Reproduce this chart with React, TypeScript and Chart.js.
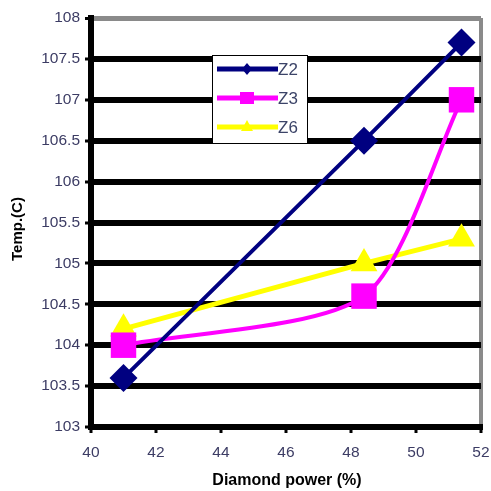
import React, { useEffect, useRef } from "react";
import { Chart, registerables } from "chart.js";
Chart.register(...registerables);

const powers = [41, 48.4, 51.4];
const z2 = [103.6, 106.5, 107.7];
const z3 = [104, 104.6, 107];
const z6 = [104.2, 105, 105.3];
const seriesNames = ["Z2", "Z3", "Z6"];
const xTitle = "Diamond power (%)";
const yTitle = "Temp.(C)";
const xMin = 40, xMax = 52, xStep = 2;
const yMin = 103, yMax = 108, yStep = 0.5;

const FONT = "'Liberation Sans', Arial, sans-serif";

export default function App() {
  const ref = useRef<HTMLCanvasElement>(null);
  useEffect(() => {
    document.body.style.margin = "0";
    const colors = ["#000080", "#ff00ff", "#ffff00"];
    const toPts = (arr: number[]) => powers.map((x, i) => ({ x, y: arr[i] }));

    const overlay = {
      id: "overlay",
      afterDraw(chart: any) {
        const ctx = chart.ctx as CanvasRenderingContext2D;
        ctx.save();
        ctx.fillStyle = "#000";
        ctx.textAlign = "center";
        ctx.textBaseline = "middle";
        ctx.font = `bold 16px ${FONT}`;
        ctx.fillText(xTitle, 287, 481);
        ctx.save();
        ctx.translate(18, 229);
        ctx.rotate(-Math.PI / 2);
        ctx.font = `bold 15px ${FONT}`;
        ctx.fillText(yTitle, 0, 0);
        ctx.restore();

        // legend
        const bx = 212, by = 55, bw = 95, bh = 88;
        ctx.fillStyle = "#fff";
        ctx.fillRect(bx, by, bw, bh);
        ctx.strokeStyle = "#000";
        ctx.lineWidth = 1;
        ctx.strokeRect(bx + 0.5, by + 0.5, bw, bh);
        const rows = [69, 98, 127];
        rows.forEach((yy, i) => {
          const c = colors[i];
          ctx.strokeStyle = c;
          ctx.lineWidth = 5;
          ctx.beginPath();
          ctx.moveTo(217, yy);
          ctx.lineTo(278, yy);
          ctx.stroke();
          ctx.fillStyle = c;
          const mx = 247;
          ctx.beginPath();
          if (i === 0) {
            ctx.moveTo(mx, yy - 6);
            ctx.lineTo(mx + 5, yy);
            ctx.lineTo(mx, yy + 6);
            ctx.lineTo(mx - 5, yy);
            ctx.closePath();
          } else if (i === 1) {
            ctx.rect(mx - 7, yy - 6, 14, 12);
          } else {
            ctx.moveTo(mx, yy - 7);
            ctx.lineTo(mx + 6, yy + 4);
            ctx.lineTo(mx - 6, yy + 4);
            ctx.closePath();
          }
          ctx.fill();
          ctx.fillStyle = "#3c4468";
          ctx.textAlign = "left";
          ctx.textBaseline = "middle";
          ctx.font = `17px ${FONT}`;
          ctx.fillText(seriesNames[i], 278, yy + 1);
        });
        ctx.restore();
      },
    };

    const chart = new Chart(ref.current!, {
      type: "line",
      data: {
        datasets: [
          {
            label: seriesNames[0],
            data: toPts(z2),
            borderColor: colors[0],
            backgroundColor: colors[0],
            borderWidth: 4,
            pointStyle: "rectRot",
            pointRadius: 14,
            pointBorderWidth: 0,
            tension: 0,
          },
          {
            label: seriesNames[1],
            data: toPts(z3),
            borderColor: colors[1],
            backgroundColor: colors[1],
            borderWidth: 4,
            pointStyle: "rect",
            pointRadius: 18,
            pointBorderWidth: 0,
            tension: 0.25,
          },
          {
            label: seriesNames[2],
            data: toPts(z6),
            borderColor: colors[2],
            backgroundColor: colors[2],
            borderWidth: 5,
            pointStyle: "triangle",
            pointRadius: 15.5,
            pointBorderWidth: 0,
            tension: 0,
          },
        ],
      },
      options: {
        responsive: false,
        animation: false,
        clip: false as any,
        layout: { autoPadding: false, padding: { top: 18, right: 8, left: 0, bottom: 0 } },
        plugins: { legend: { display: false }, tooltip: { enabled: false } },
        scales: {
          x: {
            type: "linear",
            min: xMin,
            max: xMax,
            afterFit: (s: any) => { s.height = 64; },
            ticks: {
              stepSize: xStep,
              color: "#3c3c64",
              font: { family: FONT, size: 15.5 },
              padding: 10,
              maxRotation: 0,
              align: "end",
              labelOffset: 8.5,
            },
            grid: {
              color: (c: any) => (c.tick && c.tick.value === xMax ? "#8a8a8a" : "rgba(0,0,0,0)"),
              lineWidth: 4,
              tickColor: "#000",
              tickWidth: 3,
              tickLength: 6,
            },
            border: { color: "#000", width: 6 },
          },
          y: {
            min: yMin,
            max: yMax,
            afterFit: (s: any) => { s.width = 91; },
            ticks: {
              stepSize: yStep,
              color: "#3c3c64",
              font: { family: FONT, size: 15.5 },
              padding: 5,
              callback: (v: any) => String(Number(v)),
            },
            grid: {
              color: (c: any) => (c.tick && c.tick.value === yMax ? "#8a8a8a" : "#000"),
              lineWidth: (c: any) => (c.tick && c.tick.value === yMax ? 5 : 6),
              tickColor: "#000",
              tickWidth: 3,
              tickLength: 6,
            },
            border: { color: "#000", width: 6 },
          },
        },
      },
      plugins: [overlay],
    });
    return () => chart.destroy();
  }, []);
  return <canvas ref={ref} width={491} height={491} style={{ display: "block" }} />;
}
